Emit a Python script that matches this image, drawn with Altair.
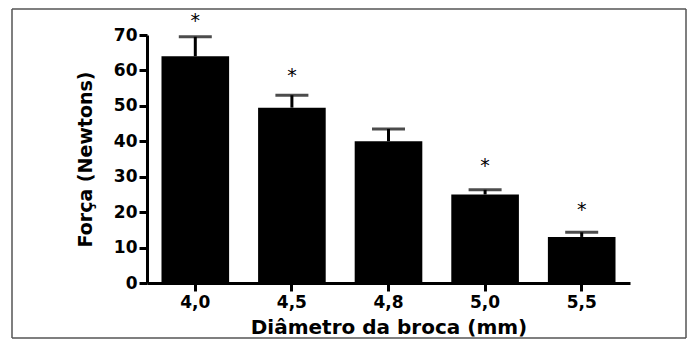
import altair as alt
import pandas as pd

categories = ["4,0", "4,5", "4,8", "5,0", "5,5"]
means = [64, 49.5, 40, 25, 13]
err_top = [69.5, 53, 43.5, 26.3, 14.3]
star_cats = ["4,0", "4,5", "5,0", "5,5"]
star_pos = [74, 58.5, 33, 20.5]

df = pd.DataFrame({"cat": categories, "mean": means, "top": err_top})
sf = pd.DataFrame({"cat": star_cats, "pos": star_pos})
frame = pd.DataFrame({"k": [0]})

FONT = "DejaVu Sans"

xaxis = alt.Axis(labelAngle=0, labelFontSize=17, labelFont=FONT, labelFontWeight="bold",
                 titleFontSize=20, titleFont=FONT, titleFontWeight="bold",
                 domainWidth=3, domainColor="black", tickWidth=3, tickColor="black",
                 tickSize=8, labelPadding=3, titlePadding=7, labelColor="black", titleColor="black")
yaxis = alt.Axis(values=[0, 10, 20, 30, 40, 50, 60, 70], grid=False,
                 labelFontSize=17, labelFont=FONT, labelFontWeight="bold",
                 titleFontSize=19, titleFont=FONT, titleFontWeight="bold",
                 domainWidth=3, domainColor="black", tickWidth=3, tickColor="black",
                 tickSize=8, labelPadding=2, titlePadding=18, labelColor="black", titleColor="black")
xs = alt.Scale(paddingInner=0.3, paddingOuter=0.15)
ys = alt.Scale(domain=[0, 70], nice=False)

def X():
    return alt.X("cat:N", sort=categories, title="Diâmetro da broca (mm)", scale=xs, axis=xaxis)

def Y(field):
    return alt.Y(field, title="Força (Newtons)", scale=ys, axis=yaxis)

bars = alt.Chart(df).mark_bar(color="black").encode(x=X(), y=Y("mean:Q"))
rule = alt.Chart(df).mark_rule(color="black", strokeWidth=3).encode(
    x=X(), y=Y("mean:Q"), y2="top:Q")
cap = alt.Chart(df).mark_tick(color="black", thickness=3, size=33).encode(
    x=X(), y=Y("top:Q"))
stars = alt.Chart(sf).mark_text(text="*", fontSize=19, font=FONT,
                                baseline="middle", clip=False, color="black").encode(
    x=X(), y=Y("pos:Q"))

def edge(x1, x2, y1, y2):
    return alt.Chart(frame).mark_rule(color="#555555", strokeWidth=1.5, clip=False).encode(
        x=alt.value(x1), x2=alt.value(x2), y=alt.value(y1), y2=alt.value(y2))

L, R, T, B = -135, 539, -26, 303
borders = [edge(L, R, T, T), edge(L, R, B, B), edge(L, L, T, B), edge(R, R, T, B)]

chart = alt.layer(bars, rule, cap, stars, *borders).properties(
    width=483, height=248,
    background="white",
    autosize=alt.AutoSizeParams(type="none"),
    padding={"left": 139, "top": 27, "right": 57, "bottom": 56},
).configure_view(stroke=None, strokeWidth=0)

chart.save("out.html", embed_options={"renderer": "svg", "actions": False})
